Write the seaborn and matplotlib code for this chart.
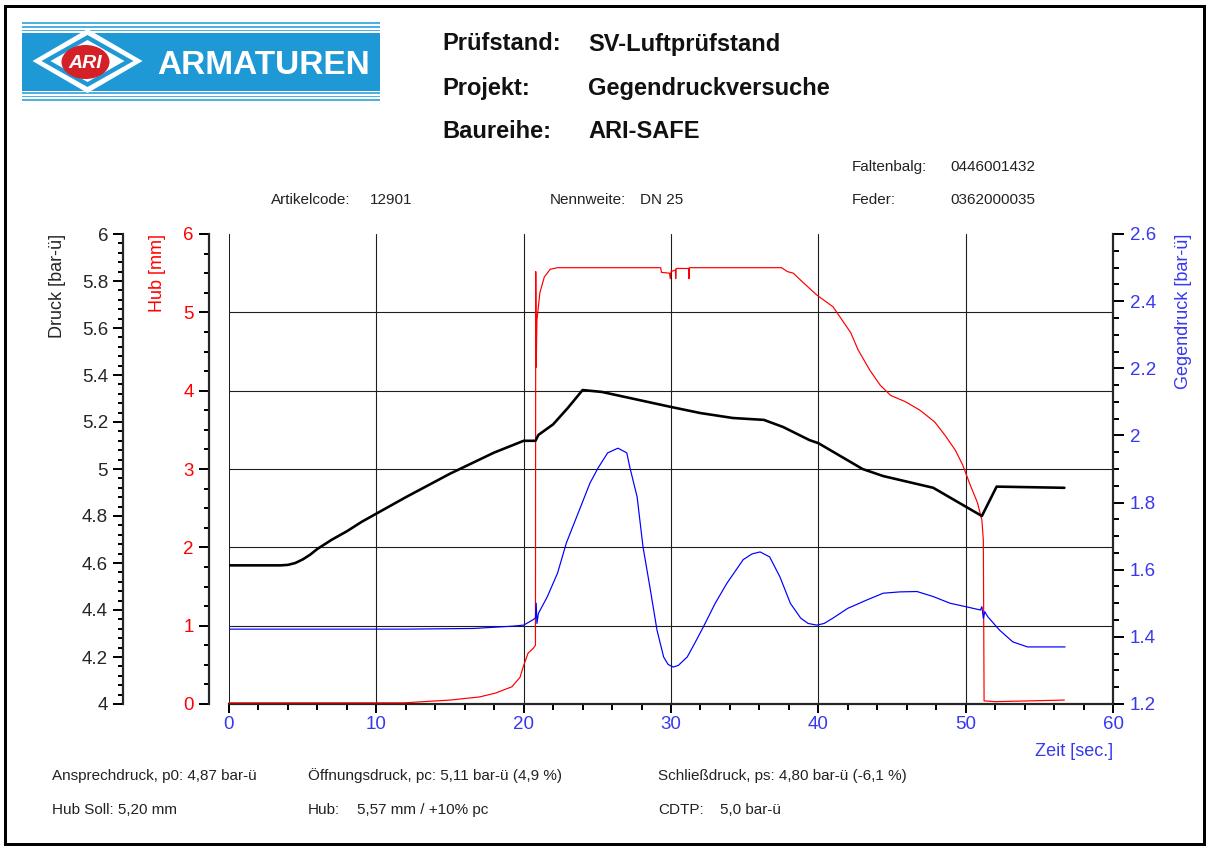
import matplotlib
matplotlib.use("Agg")
import matplotlib.pyplot as plt
import seaborn as sns
from matplotlib.ticker import MultipleLocator, FormatStrFormatter
from matplotlib.patches import Rectangle, Polygon, Ellipse

# Druck [bar-ü] (black, outer left axis)
druck_t = [0, 3.5, 4.0, 4.5, 5.0, 5.5, 6.0, 7.0, 8.0, 9.0, 10.0, 12.0, 15.0, 18.0, 20.0,
           20.8, 21.0, 22.0, 23.0, 24.0, 25.3, 30.0, 32.0, 34.2, 36.3, 37.6, 39.4, 40.0,
           43.0, 44.4, 47.8, 51.1, 52.1, 56.7]
druck_v = [4.59, 4.59, 4.592, 4.60, 4.615, 4.635, 4.66, 4.70, 4.735, 4.775, 4.81, 4.88,
           4.98, 5.07, 5.12, 5.12, 5.145, 5.19, 5.26, 5.336, 5.328, 5.264, 5.238, 5.217,
           5.209, 5.179, 5.123, 5.11, 5.0, 4.97, 4.92, 4.80, 4.925, 4.92]

# Hub [mm] (red, inner left axis)
hub_t = [0, 11.9, 13.2, 15.0, 17.0, 18.1, 19.2, 19.75, 19.96, 20.3, 20.65, 20.8, 20.82,
         20.85, 20.9, 21.1, 21.4, 21.8, 22.3, 29.3, 29.35, 29.9, 29.95, 30.0, 30.3, 30.32,
         30.35, 31.2, 31.22, 31.25, 37.5, 37.9, 38.3, 38.8, 39.9, 41.0, 42.2, 42.7, 43.5,
         44.2, 44.9, 45.9, 46.9, 47.9, 48.6, 49.3, 49.8, 50.3, 50.8, 51.1, 51.2, 51.25,
         52.0, 56.7]
hub_v = [0.015, 0.015, 0.03, 0.05, 0.09, 0.14, 0.22, 0.34, 0.47, 0.65, 0.71, 0.75, 5.52,
         4.3, 4.9, 5.25, 5.45, 5.55, 5.57, 5.57, 5.51, 5.50, 5.43, 5.52, 5.54, 5.43,
         5.56, 5.56, 5.43, 5.57, 5.57, 5.52, 5.50, 5.41, 5.22, 5.07, 4.74, 4.52, 4.26,
         4.07, 3.94, 3.86, 3.75, 3.60, 3.43, 3.24, 3.05, 2.80, 2.57, 2.35, 2.09, 0.04,
         0.03, 0.05]

# Gegendruck [bar-ü] (blue, right axis)
gegen_t = [0, 12, 16.6, 19.3, 20.0, 20.6, 20.8, 20.85, 20.9, 21.0, 21.6, 22.3, 22.9,
           23.8, 24.5, 25.05, 25.7, 26.4, 27.0, 27.2, 27.7, 28.1, 28.6, 29.05, 29.5, 29.8,
           30.15, 30.5, 31.1, 31.6, 32.2, 33.0, 33.8, 34.9, 35.5, 36.05, 36.7, 37.4, 38.1,
           38.8, 39.3, 39.9, 40.4, 41.0, 42.0, 43.3, 44.4, 45.55, 46.7, 47.8, 48.95,
           50.0, 51.0, 51.1, 51.2, 51.3, 51.5, 52.3, 53.2, 54.2, 56.75]
gegen_v = [1.423, 1.423, 1.425, 1.432, 1.435, 1.45, 1.456, 1.50, 1.44, 1.47, 1.519,
           1.59, 1.68, 1.78, 1.858, 1.903, 1.948, 1.962, 1.948, 1.906, 1.817, 1.668,
           1.54, 1.42, 1.34, 1.318, 1.31, 1.315, 1.34, 1.38, 1.43, 1.50, 1.56, 1.63,
           1.647, 1.653, 1.638, 1.578, 1.50, 1.456, 1.44, 1.435, 1.44, 1.456, 1.485,
           1.51, 1.53, 1.534, 1.535, 1.52, 1.50, 1.49, 1.48, 1.49, 1.455, 1.475, 1.46,
           1.42, 1.385, 1.37, 1.37]

x_grid = [0, 10, 20, 30, 40, 50]
hub_grid = [1, 2, 3, 4, 5]

RED = "#ff0000"
BLUE = "#0000ff"
BLUE_TXT = "#3838f0"
DARK = "#262626"

sns.set_style("white")
plt.rcParams["font.family"] = ["Liberation Sans", "DejaVu Sans"]

W, H = 1208, 848
PT = 0.72  # points per pixel at dpi 100
fig = plt.figure(figsize=(W / 100, H / 100), dpi=100)


def fx(px):
    return px / W


def fy(py):
    return 1 - py / H


# decoration layer in pixel coordinates (logo + frame)
deco = fig.add_axes([0, 0, 1, 1])
deco.set_xlim(0, W)
deco.set_ylim(H, 0)
deco.axis("off")
deco.add_patch(Rectangle((5, 6), 1199, 838, fill=False, ec="black", lw=3 * PT))
LOGO = "#1f98d6"
for y0, h in [(22, 2), (26, 1.8), (29.5, 1.8), (92, 1.8), (95.5, 1.8), (98.5, 2)]:
    deco.add_patch(Rectangle((22, y0), 358, h, color="#4fb0e2", lw=0))
deco.add_patch(Rectangle((22, 32.5), 358, 58.5, color=LOGO, lw=0))
cx, cy = 87.5, 61
for hw, hh, c in [(55, 32, "white"), (46, 26, LOGO), (37, 21, "white")]:
    deco.add_patch(Polygon([(cx - hw, cy), (cx, cy - hh), (cx + hw, cy), (cx, cy + hh)],
                           closed=True, color=c, lw=0))
deco.add_patch(Ellipse((cx - 2, cy + 1), 48, 34, color="#d42027", lw=0))
deco.text(cx - 2, cy + 2, "ARI", color="white", fontsize=14, weight="bold",
          style="italic", ha="center", va="center")
deco.text(157, 66, "ARMATUREN", color="white", fontsize=24, weight="bold",
          ha="left", va="center")

# header
for y, k, v in [(44, "Prüfstand:", "SV-Luftprüfstand"), (89, "Projekt:", "Gegendruckversuche"),
                (131, "Baureihe:", "ARI-SAFE")]:
    fig.text(fx(442), fy(y), k, fontsize=17, weight="bold", va="center", color="#111")
    fig.text(fx(588), fy(y), v, fontsize=17, weight="bold", va="center", color="#111")

small = dict(fontsize=11, va="center", color="#222")
fig.text(fx(852), fy(167), "Faltenbalg:", **small)
fig.text(fx(950), fy(167), "0446001432", **small)
fig.text(fx(271), fy(200), "Artikelcode:", **small)
fig.text(fx(370), fy(200), "12901", **small)
fig.text(fx(550), fy(200), "Nennweite:", **small)
fig.text(fx(640), fy(200), "DN 25", **small)
fig.text(fx(852), fy(200), "Feder:", **small)
fig.text(fx(950), fy(200), "0362000035", **small)

fig.text(fx(52), fy(776), "Ansprechdruck, p0: 4,87 bar-ü", **small)
fig.text(fx(308), fy(776), "Öffnungsdruck, pc: 5,11 bar-ü (4,9 %)", **small)
fig.text(fx(658), fy(776), "Schließdruck, ps: 4,80 bar-ü (-6,1 %)", **small)
fig.text(fx(52), fy(810), "Hub Soll: 5,20 mm", **small)
fig.text(fx(308), fy(810), "Hub:", **small)
fig.text(fx(357), fy(810), "5,57 mm / +10% pc", **small)
fig.text(fx(658), fy(810), "CDTP:", **small)
fig.text(fx(720), fy(810), "5,0 bar-ü", **small)

# main plot area: Hub axis
ax = fig.add_axes([fx(229), fy(704), fx(1113) - fx(229), fy(234) - fy(704)])
ax.set_facecolor("white")
ax.set_xlim(0, 60)
ax.set_ylim(0, 6)
for x in x_grid:
    ax.axvline(x, color="#1e1e1e", lw=1.1 * PT if x else 2 * PT, zorder=1)
for y in hub_grid:
    ax.axhline(y, color="#1e1e1e", lw=1.1 * PT, zorder=1)

sns.lineplot(x=hub_t, y=hub_v, ax=ax, color=RED, lw=1.2 * PT, estimator=None, sort=False,
             zorder=3, clip_on=False)

for s in ["top", "right"]:
    ax.spines[s].set_visible(False)
ax.spines["left"].set_position(("outward", 20 * PT))
ax.spines["left"].set_linewidth(2.2 * PT)
ax.spines["bottom"].set_linewidth(2.2 * PT)
ax.yaxis.set_major_locator(MultipleLocator(1))
ax.yaxis.set_minor_locator(MultipleLocator(0.25))
ax.yaxis.set_major_formatter(FormatStrFormatter("%g"))
ax.xaxis.set_major_locator(MultipleLocator(10))
ax.xaxis.set_minor_locator(MultipleLocator(2))
ax.tick_params(axis="y", which="major", direction="out", length=10 * PT, width=2 * PT,
               color="black", labelcolor=RED, labelsize=13.5, pad=5 * PT, left=True)
ax.tick_params(axis="y", which="minor", direction="out", length=5 * PT, width=2 * PT,
               color="black", left=True)
ax.tick_params(axis="x", which="major", direction="out", length=9 * PT, width=2 * PT,
               color="black", labelcolor=BLUE_TXT, labelsize=13.5, pad=3 * PT, bottom=True)
ax.tick_params(axis="x", which="minor", direction="out", length=6 * PT, width=2 * PT,
               color="black", bottom=True)
ax.set_xlabel("")
ax.set_ylabel("")

# Druck axis (outer left)
ax2 = ax.twinx()
ax2.set_ylim(4, 6)
sns.lineplot(x=druck_t, y=druck_v, ax=ax2, color="black", lw=2.6 * PT, estimator=None,
             sort=False)
ax2.yaxis.tick_left()
ax2.yaxis.set_label_position("left")
for s in ["top", "right", "bottom"]:
    ax2.spines[s].set_visible(False)
ax2.spines["left"].set_visible(True)
ax2.spines["left"].set_position(("outward", 106 * PT))
ax2.spines["left"].set_linewidth(2.2 * PT)
ax2.yaxis.set_major_locator(MultipleLocator(0.2))
ax2.yaxis.set_minor_locator(MultipleLocator(0.04))
ax2.yaxis.set_major_formatter(FormatStrFormatter("%g"))
ax2.tick_params(axis="y", which="major", direction="out", length=10 * PT, width=2 * PT,
                color="black", labelcolor=DARK, labelsize=13.5, pad=5 * PT, left=True,
                right=False)
ax2.tick_params(axis="y", which="minor", direction="out", length=5 * PT, width=2 * PT,
                color="black", left=True, right=False)
ax2.set_ylabel("")

# Gegendruck axis (right)
ax3 = ax.twinx()
ax3.set_ylim(1.2, 2.6)
sns.lineplot(x=gegen_t, y=gegen_v, ax=ax3, color=BLUE, lw=1.2 * PT, estimator=None,
             sort=False)
for s in ["top", "left", "bottom"]:
    ax3.spines[s].set_visible(False)
ax3.spines["right"].set_linewidth(2.2 * PT)
ax3.yaxis.set_major_locator(MultipleLocator(0.2))
ax3.yaxis.set_minor_locator(MultipleLocator(0.05))
ax3.yaxis.set_major_formatter(FormatStrFormatter("%g"))
ax3.tick_params(axis="y", which="major", direction="out", length=11 * PT, width=2 * PT,
                color="black", labelcolor=BLUE_TXT, labelsize=13.5, pad=6 * PT)
ax3.tick_params(axis="y", which="minor", direction="out", length=6 * PT, width=2 * PT,
                color="black")
ax3.set_ylabel("")
ax.set_xlim(0, 60)

# axis titles
fig.text(fx(58), fy(234), "Druck [bar-ü]", rotation=90, ha="center", va="top",
         fontsize=13, color=DARK)
fig.text(fx(158), fy(234), "Hub [mm]", rotation=90, ha="center", va="top",
         fontsize=13, color=RED)
fig.text(fx(1183), fy(234), "Gegendruck [bar-ü]", rotation=90, ha="center", va="top",
         fontsize=13, color=BLUE_TXT)
fig.text(fx(1113), fy(751), "Zeit [sec.]", ha="right", va="center", fontsize=13,
         color=BLUE_TXT)

fig.savefig("out.png", dpi=100)
